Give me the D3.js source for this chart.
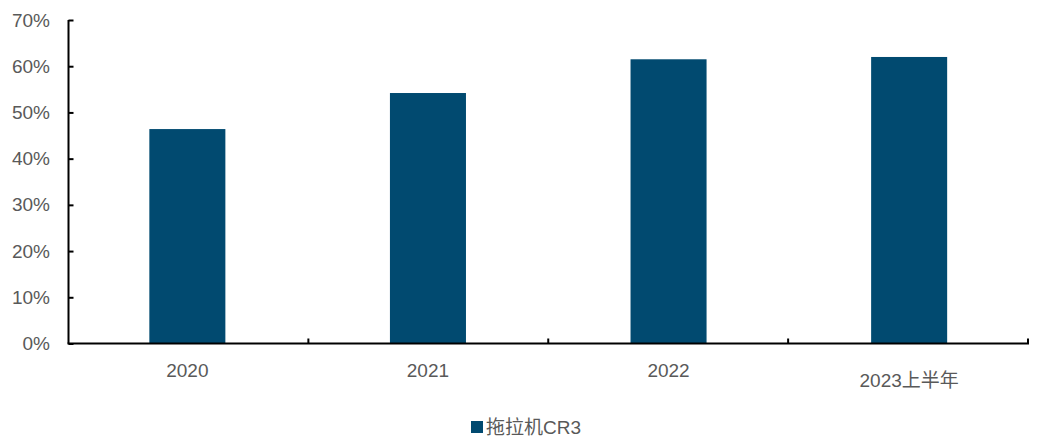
<!DOCTYPE html>
<html>
<head>
<meta charset="utf-8">
<script src="https://cdn.jsdelivr.net/npm/d3@7"></script>
<style>
  body { margin: 0; background: #fff; }
  text { font-family: "Liberation Sans", Arial, "Noto Sans CJK SC", sans-serif; fill: #595959; }
</style>
</head>
<body>
<svg id="chart" width="1043" height="441"></svg>
<script>
var categories = ["2020", "2021", "2022", "2023上半年"];
var cr3Values = [0.464, 0.542, 0.615, 0.62];
var yTicks = [0, 0.1, 0.2, 0.3, 0.4, 0.5, 0.6, 0.7];
var seriesName = "拖拉机CR3";

var margin = {left: 68.5, right: 15, top: 20, bottom: 97.5};
var width = 1043, height = 441;
var barColor = "#014a70";

var svg = d3.select("#chart");

var x = d3.scaleBand()
  .domain(categories)
  .range([margin.left, width - margin.right])
  .paddingInner(0.684)
  .paddingOuter(0.336);

var y = d3.scaleLinear()
  .domain([0, 0.7])
  .range([height - margin.bottom, margin.top]);

// bars
svg.append("g").selectAll("rect")
  .data(cr3Values)
  .enter().append("rect")
  .attr("x", function(d, i){ return x(categories[i]); })
  .attr("y", function(d){ return y(d); })
  .attr("width", x.bandwidth())
  .attr("height", function(d){ return y(0) - y(d); })
  .attr("fill", barColor);

// y axis
var yAxis = svg.append("g")
  .attr("transform", "translate(" + margin.left + ",0)")
  .call(d3.axisLeft(y).tickValues(yTicks).tickFormat(d3.format(".0%")).tickSize(-5).tickPadding(18.5));
yAxis.select(".domain").attr("stroke", "#000").attr("stroke-width", 2).attr("d", "M0," + y(0) + "V" + y(0.7));
yAxis.selectAll(".tick line").attr("stroke", "#000").attr("stroke-width", 2);
yAxis.selectAll(".tick text").attr("font-size", 19).style("fill", "#595959");

// x axis with ticks at category boundaries
var r = x.range();
var slot = (r[1] - r[0]) / categories.length;
var bounds = categories.map(function(c, i){ return r[0] + slot * (i + 1); });
var xAxis = svg.append("g");
xAxis.append("line")
  .attr("x1", margin.left - 1).attr("x2", width - margin.right + 1)
  .attr("y1", y(0)).attr("y2", y(0))
  .attr("stroke", "#000").attr("stroke-width", 2);
xAxis.selectAll(".xtick")
  .data(bounds)
  .enter().append("line")
  .attr("x1", function(d){ return d; }).attr("x2", function(d){ return d; })
  .attr("y1", y(0)).attr("y2", y(0) - 5)
  .attr("stroke", "#000").attr("stroke-width", 2);
xAxis.selectAll(".xlabel")
  .data(categories)
  .enter().append("text")
  .attr("x", function(c){ return x(c) + x.bandwidth() / 2; })
  .attr("y", function(c, i){ return i === 3 ? y(0) + 43 : y(0) + 33; })
  .attr("text-anchor", "middle")
  .attr("font-size", 19)
  .text(function(c){ return c; });

// legend
var legend = svg.append("g").attr("transform", "translate(471,421)");
legend.append("rect").attr("width", 12).attr("height", 12).attr("fill", barColor);
legend.append("text").attr("x", 15).attr("y", 13).attr("font-size", 19).text(seriesName);
</script>
</body>
</html>
